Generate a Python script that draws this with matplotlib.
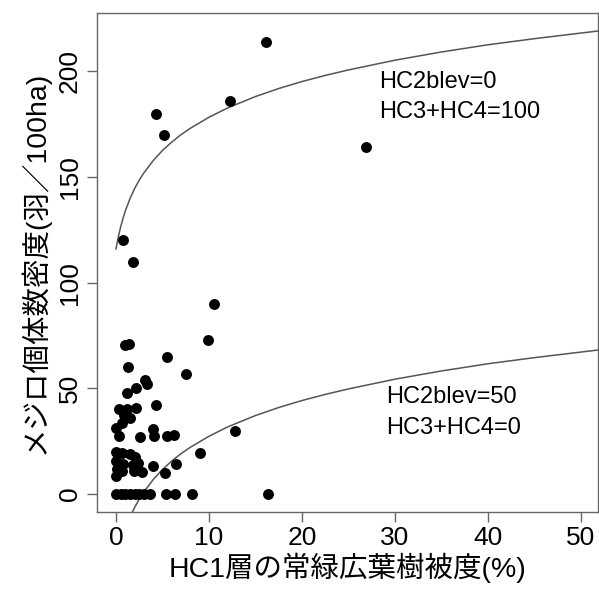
import numpy as np
import matplotlib.pyplot as plt

plt.rcParams['font.family'] = ['Liberation Sans', 'Noto Sans CJK JP', 'DejaVu Sans']

# observed points (HC1 cover %, density birds/100ha)
cover = [16.1, 4.3, 5.2, 12.3, 26.9, 0.7, 1.8,
         10.5, 9.9, 1.0, 1.4, 5.5, 7.5, 1.3, 3.1, 3.3, 2.2, 1.2, 4.3,
         0.3, 1.2, 2.2, 0.9, 1.5, 0.6,
         0.0, 0.3, 2.6, 4.0, 4.1, 5.5, 6.2, 12.8,
         9.0,
         0.0, 0.6, 1.5, 2.0,
         0.0, 0.8, 1.8, 2.4,
         0.1, 0.6, 1.9, 2.8,
         0.0,
         4.0, 5.3, 6.4,
         0.0, 0.5, 1.0, 1.5, 2.0, 2.5, 3.0, 3.6, 5.4, 6.3, 8.2, 16.4]
density = [214, 180, 170, 186, 164, 120, 110,
           90, 73, 70.5, 71, 65, 57, 60, 54, 52, 50, 48, 42,
           40, 40, 40.5, 37.5, 36, 33.5,
           31, 27.5, 27, 30.5, 27.5, 27.5, 28, 30,
           19.5,
           20, 19.3, 19, 17.5,
           15.5, 14, 13.5, 14.5,
           12, 11, 11, 10.5,
           8.7,
           13, 9.8, 14,
           0, 0, 0, 0, 0, 0, 0, 0, 0, 0, 0, 0]

# fitted curves
curve_x = [0, 0.1, 0.2, 0.3, 0.5, 0.75, 1, 1.5, 2, 2.5, 3, 4, 5, 6, 7, 8,
           10, 12, 15, 17.5, 20, 22.5, 25, 30, 35, 40, 45, 52]
curve_hi = [116, 118.5, 120.7, 122.8, 126.5, 130.5, 134, 139.8, 144.6, 148.6,
            152, 157.8, 162.6, 166.6, 170.1, 173.1, 178.3, 182.7, 188.1,
            191.9, 195.2, 198.1, 200.7, 205.3, 209.2, 212.6, 215.5, 219.2]
curve_lo_x = [1.7, 2, 2.5, 3, 4, 5, 6, 7, 8, 10, 12, 15, 17.5, 20, 22.5, 25,
              30, 35, 40, 45, 52]
curve_lo = [-9.2, -6.4, -2.4, 1.0, 6.8, 11.6, 15.6, 19.1, 22.1, 27.3, 31.7,
            37.1, 40.9, 44.2, 47.1, 49.7, 54.3, 58.2, 61.6, 64.5, 68.2]

fig = plt.figure(figsize=(5.99, 5.93), dpi=100)
ax = fig.add_axes([0.1624, 0.1361, 0.8351, 0.8425])

ax.plot(curve_x, curve_hi, color='#555555', lw=1.1)
ax.plot(curve_lo_x, curve_lo, color='#555555', lw=1.1)
ax.scatter(cover, density, s=62, color='black', zorder=3, linewidths=0)

ax.text(28.3, 194.8, 'HC2blev=0', fontsize=17, va='center')
ax.text(28.3, 180.6, 'HC3+HC4=100', fontsize=17, va='center')
ax.text(29.1, 46.1, 'HC2blev=50', fontsize=17, va='center')
ax.text(29.1, 31.1, 'HC3+HC4=0', fontsize=17, va='center')

ax.set_xlim(-2.02, 51.8)
ax.set_ylim(-8.7, 227.8)
ax.set_xticks([0, 10, 20, 30, 40, 50])
ax.set_yticks([0, 50, 100, 150, 200])
ax.tick_params(direction='out', length=7, width=1, color='#666666',
               labelsize=19, pad=3)
ax.tick_params(axis='y', labelrotation=90, pad=4)
for lab in ax.get_yticklabels():
    lab.set_va('center')
for sp in ax.spines.values():
    sp.set_color('#666666')
    sp.set_linewidth(1)

ax.set_xlabel('HC1層の常緑広葉樹被度(%)', fontsize=20.5, labelpad=2)
ax.set_ylabel('メジロ個体数密度(羽／100ha)', fontsize=20.5, labelpad=6)

fig.savefig('out.png', dpi=100)
